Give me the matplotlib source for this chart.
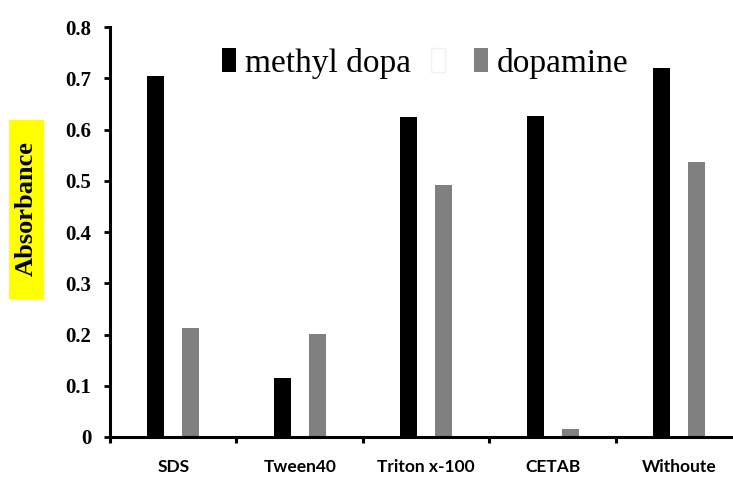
import matplotlib
matplotlib.use('Agg')
import matplotlib.pyplot as plt
from matplotlib.patches import Patch, Rectangle
import numpy as np

# data
surfactants = ['SDS', 'Tween40', 'Triton x-100', 'CETAB', 'Withoute']
methyl_dopa = [0.705, 0.115, 0.624, 0.626, 0.72]
dopamine = [0.213, 0.201, 0.492, 0.015, 0.537]
ytick_vals = [0, 0.1, 0.2, 0.3, 0.4, 0.5, 0.6, 0.7, 0.8]
ytick_labels = ['0', '0.1', '0.2', '0.3', '0.4', '0.5', '0.6', '0.7', '0.8']

W, H = 733, 484
fig = plt.figure(figsize=(W / 100, H / 100), dpi=100, facecolor='w')
ax = fig.add_axes([110 / W, 47 / H, 623 / W, 410 / H])

x = np.arange(len(surfactants))
bw = 0.135
ax.bar(x - 0.138, methyl_dopa, width=bw, color='black')
ax.bar(x + 0.138, dopamine, width=bw, color='#808080')

ax.set_xlim(-0.5, 4.425)
ax.set_ylim(0, 0.8)

for s in ['top', 'right']:
    ax.spines[s].set_visible(False)
for s in ['left', 'bottom']:
    ax.spines[s].set_linewidth(2.2)

# y axis
ax.set_yticks(ytick_vals)
ax.set_yticklabels(ytick_labels, fontfamily='Liberation Serif', fontweight='bold', fontsize=15)
ax.tick_params(axis='y', direction='out', length=4.5, width=2, pad=9, color='black')

# x axis: tick marks between categories (major), labels at centres (minor)
bounds = np.append(x[:-1] - 0.5, x[-1] - 0.5)
ax.set_xticks(bounds)
ax.set_xticklabels([''] * len(bounds))
ax.tick_params(axis='x', which='major', direction='out', length=4.5, width=2.2,
               bottom=True, color='black')
ax.set_xticks(x, minor=True)
ax.set_xticklabels(surfactants, minor=True, fontfamily='Lato', fontweight='bold', fontsize=12.5)
ax.tick_params(axis='x', which='minor', length=0, pad=16)

# y label with yellow highlight
fig.add_artist(Rectangle((9 / W, 1 - 298 / H), 34 / W, 178 / H,
                         transform=fig.transFigure, color='#ffff00', zorder=0))
fig.text(26 / W, 1 - 209 / H, 'Absorbance', rotation=90, ha='center', va='center',
         fontfamily='Liberation Serif', fontweight='bold', fontsize=19)

handles = [Patch(facecolor='black'),
           Patch(facecolor='white', edgecolor='#f0f0f0'),
           Patch(facecolor='#808080')]
labels = ['methyl dopa', '', 'dopamine']
fig.legend(handles, labels, loc='center left', bbox_to_anchor=(222 / W, 1 - 63 / H),
           ncol=3, frameon=False, prop={'family': 'Liberation Serif', 'size': 24},
           handlelength=0.42, handleheight=0.7, handletextpad=0.27,
           columnspacing=0.6, borderpad=0, borderaxespad=0)

fig.savefig('out.png', dpi=100)
